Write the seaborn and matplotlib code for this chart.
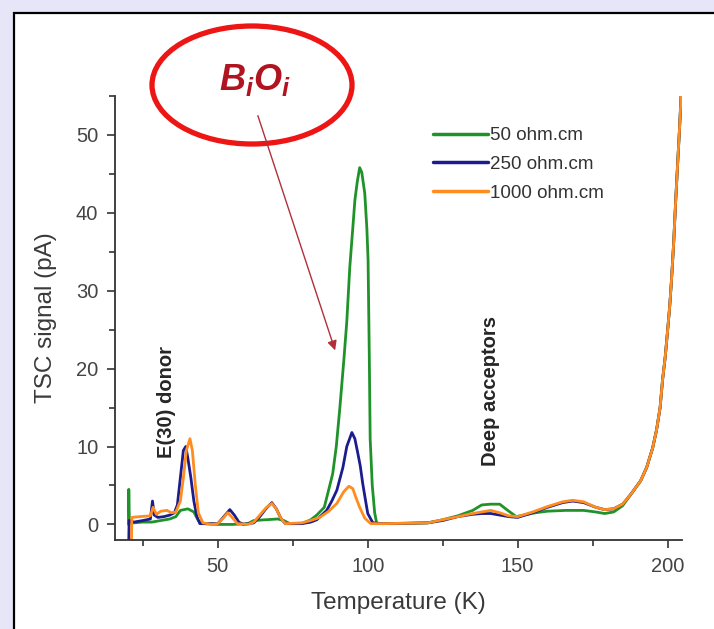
import pandas as pd
import matplotlib.pyplot as plt
import seaborn as sns
from matplotlib.patches import Ellipse, Rectangle, FancyArrowPatch
from matplotlib.ticker import MultipleLocator

# TSC-Spektren
t_50 = [20.2, 20.3, 20.5, 22, 25, 28, 31, 34, 36, 37.5, 40, 42, 43.5, 45, 50, 55, 60, 62, 66, 70,
        72, 74, 78, 81, 83, 85.5, 87, 88.3, 89.5, 90.7, 92, 93, 94, 95, 95.7, 96.5, 97.3, 98, 99,
        99.7, 100.1, 100.5, 100.8, 101.5, 102.3, 103, 110, 120, 125, 130, 135, 138, 141, 144, 146,
        149.5, 152, 156, 160, 166, 172, 176, 179, 182, 185, 188, 191, 193, 195, 196.3, 197.5,
        198.3, 199.2, 200, 200.7, 201.3, 202, 202.7, 203.3, 204, 204.5]
i_50 = [0.0, 4.5, 0.2, 0.2, 0.3, 0.3, 0.5, 0.7, 1.0, 1.8, 2.0, 1.6, 0.5, 0.1, 0.0, 0.0, 0.1, 0.5,
        0.6, 0.7, 0.5, 0.1, 0.1, 0.6, 1.2, 2.2, 4.5, 6.5, 10, 15, 21, 26, 33, 38, 41.6, 44, 45.8,
        45.2, 42.5, 38, 34, 22, 11, 5, 1.5, 0.1, 0.1, 0.2, 0.6, 1.1, 1.8, 2.5, 2.6, 2.6, 2.0, 1.0,
        1.2, 1.5, 1.7, 1.8, 1.8, 1.6, 1.4, 1.6, 2.4, 4.0, 5.6, 7.3, 9.8, 12.1, 15, 18.5, 21.5,
        24.9, 28, 31.4, 36, 41.6, 46, 51, 55]

t_250 = [20.3, 20.4, 22, 25, 27.5, 28.2, 28.8, 30, 32, 34, 35.5, 36.5, 37.5, 38.5, 39.3, 40, 41,
         42, 43, 44, 50, 52, 54, 55.5, 57, 58.5, 62, 64, 66, 68, 69.5, 71, 72.5, 78, 81, 83, 86.3,
         88, 89.7, 91.7, 93, 94.7, 95.7, 96.7, 97.5, 98.3, 99.2, 100, 101.7, 105, 120, 125, 130,
         135, 138, 141, 144, 147, 150, 155, 160, 165, 168.3, 172, 176, 179, 182, 185, 188, 191,
         193, 195, 196.3, 197.5, 198.3, 199.2, 200, 200.7, 201.3, 202, 202.7, 203.3, 204, 204.5]
i_250 = [-2.0, 0.5, 0.3, 0.5, 0.7, 3.0, 1.2, 0.9, 1.0, 1.2, 1.5, 2.5, 6, 9.5, 10.0, 8.5, 6, 3,
         1, 0.1, 0.1, 1.0, 1.9, 1.2, 0.3, 0.0, 0.2, 1.0, 2.0, 2.8, 2.0, 0.8, 0.1, 0.1, 0.3, 0.6,
         1.8, 3.0, 4.4, 7.3, 10, 11.8, 11.0, 9.1, 7.5, 5.3, 3.2, 1.4, 0.2, 0.1, 0.2, 0.5, 1.0,
         1.3, 1.4, 1.4, 1.2, 1.0, 0.9, 1.5, 2.2, 2.8, 3.0, 2.8, 2.2, 1.9, 2.0, 2.6, 4.0, 5.6, 7.3,
         9.8, 12.1, 15, 18.5, 21.5, 24.9, 28, 31.4, 36, 41.6, 46, 51, 55]

t_1000 = [21.2, 21.3, 24, 27.5, 28.4, 29.5, 31, 33, 34.5, 36, 37.5, 38.5, 39.5, 40.7, 41.5, 42.5,
          43.5, 45, 48, 50, 52, 53.3, 55, 56.5, 60, 62, 64, 66, 68, 69.5, 71, 72.5, 78, 81, 84,
          87, 89.7, 92, 93.7, 95, 96, 97.3, 99, 101, 105, 120, 125, 130, 135, 138, 141, 144, 147,
          150, 155, 160, 165, 168.3, 172, 176, 179, 182, 185, 188, 191, 193, 195, 196.3, 197.5,
          198.3, 199.2, 200, 200.7, 201.3, 202, 202.7, 203.3, 204, 204.5]
i_1000 = [-2.0, 0.9, 1.0, 1.1, 2.2, 1.3, 1.7, 1.8, 1.5, 1.6, 3, 6, 9.5, 11.0, 9.5, 5, 1.5, 0.2,
          0.0, 0.1, 0.9, 1.5, 0.8, 0.1, 0.0, 0.3, 1.2, 2.1, 2.7, 2.0, 0.8, 0.1, 0.2, 0.5, 0.9, 1.7,
          2.7, 4.2, 4.9, 4.6, 3.5, 2.2, 0.8, 0.1, 0.1, 0.2, 0.6, 1.0, 1.4, 1.6, 1.8, 1.5, 1.1, 1.0,
          1.6, 2.3, 2.9, 3.1, 2.9, 2.2, 1.9, 2.0, 2.6, 4.0, 5.6, 7.3, 9.8, 12.1, 15, 18.5, 21.5,
          24.9, 28, 31.4, 36, 41.6, 46, 51, 55]

labels = ["50 ohm.cm", "250 ohm.cm", "1000 ohm.cm"]
farben = ["#20922a", "#1c1c8e", "#ff8c1e"]

df = pd.concat([
    pd.DataFrame({"T": t_50, "I": i_50, "Probe": labels[0]}),
    pd.DataFrame({"T": t_250, "I": i_250, "Probe": labels[1]}),
    pd.DataFrame({"T": t_1000, "I": i_1000, "Probe": labels[2]}),
], ignore_index=True)

sns.set_style("ticks")
plt.rcParams["font.family"] = ["Liberation Sans", "DejaVu Sans"]
plt.rcParams["mathtext.fontset"] = "custom"
plt.rcParams["mathtext.it"] = "Liberation Sans:italic:bold"
plt.rcParams["mathtext.rm"] = "Liberation Sans:bold"

W, H = 714, 629
fig = plt.figure(figsize=(W / 100, H / 100), dpi=100, facecolor="#e6e6f8")

# weisses Panel mit Rahmen
fig.add_artist(Rectangle((14 / W, -0.05), 1.0, 616 / H + 0.05, transform=fig.transFigure,
                         facecolor="white", edgecolor="black", lw=1.6, zorder=-1))

ax = fig.add_axes([115 / W, 89 / H, 567 / W, 444 / H])
ax.set_facecolor("none")

sns.lineplot(data=df, x="T", y="I", hue="Probe", palette=farben, sort=False,
             estimator=None, linewidth=2, ax=ax)

ax.set_xlim(15.7, 204.8)
ax.set_ylim(-2, 55)
ax.xaxis.set_major_locator(MultipleLocator(50))
ax.xaxis.set_minor_locator(MultipleLocator(25))
ax.yaxis.set_major_locator(MultipleLocator(10))
ax.yaxis.set_minor_locator(MultipleLocator(5))
ax.tick_params(which="major", length=6, width=1.2, color="#333333", labelsize=14.5,
               labelcolor="#444444", pad=6)
ax.tick_params(which="minor", length=4, width=1.2, color="#333333")
for s in ["top", "right"]:
    ax.spines[s].set_visible(False)
for s in ["left", "bottom"]:
    ax.spines[s].set_color("#333333")
    ax.spines[s].set_linewidth(1.3)

ax.set_xlabel("Temperature (K)", fontsize=17.5, color="#3a3a3a", labelpad=12)
ax.set_ylabel("TSC signal (pA)", fontsize=17.5, color="#3a3a3a", labelpad=14)

sns.move_legend(ax, "upper left", bbox_to_anchor=(433 / W, (H - 127) / H),
                bbox_transform=fig.transFigure, title=None, frameon=False, fontsize=13.5,
                handlelength=2.95, handletextpad=0.1, labelspacing=0.62, borderpad=0,
                borderaxespad=0)
for ln in ax.get_legend().get_lines():
    ln.set_linewidth(2.5)
for tx in ax.get_legend().get_texts():
    tx.set_color("#333333")

# Beschriftungen der Peaks
fig.text(166 / W, (H - 402) / H, "E(30) donor", fontsize=14.5, fontweight="bold",
         rotation=90, ha="center", va="center")
fig.text(490 / W, (H - 391) / H, "Deep acceptors", fontsize=14.5, fontweight="bold",
         rotation=90, ha="center", va="center")

# Ellipse, BiOi und Pfeil
fig.add_artist(Ellipse((252 / W, (H - 85) / H), 200 / W, 118 / H, transform=fig.transFigure,
                       fill=False, edgecolor="#ee1515", lw=3.8, zorder=5))
fig.text(255 / W, (H - 80) / H, r"$B_iO_i$", fontsize=26, color="#b01420",
         ha="center", va="center", zorder=6)
fig.add_artist(FancyArrowPatch((257 / W, (H - 113) / H), (336 / W, (H - 353) / H),
                               transform=fig.transFigure, arrowstyle="-|>", mutation_scale=14,
                               color="#b0303a", lw=1.0, zorder=5))

fig.savefig("out.png", dpi=100)
